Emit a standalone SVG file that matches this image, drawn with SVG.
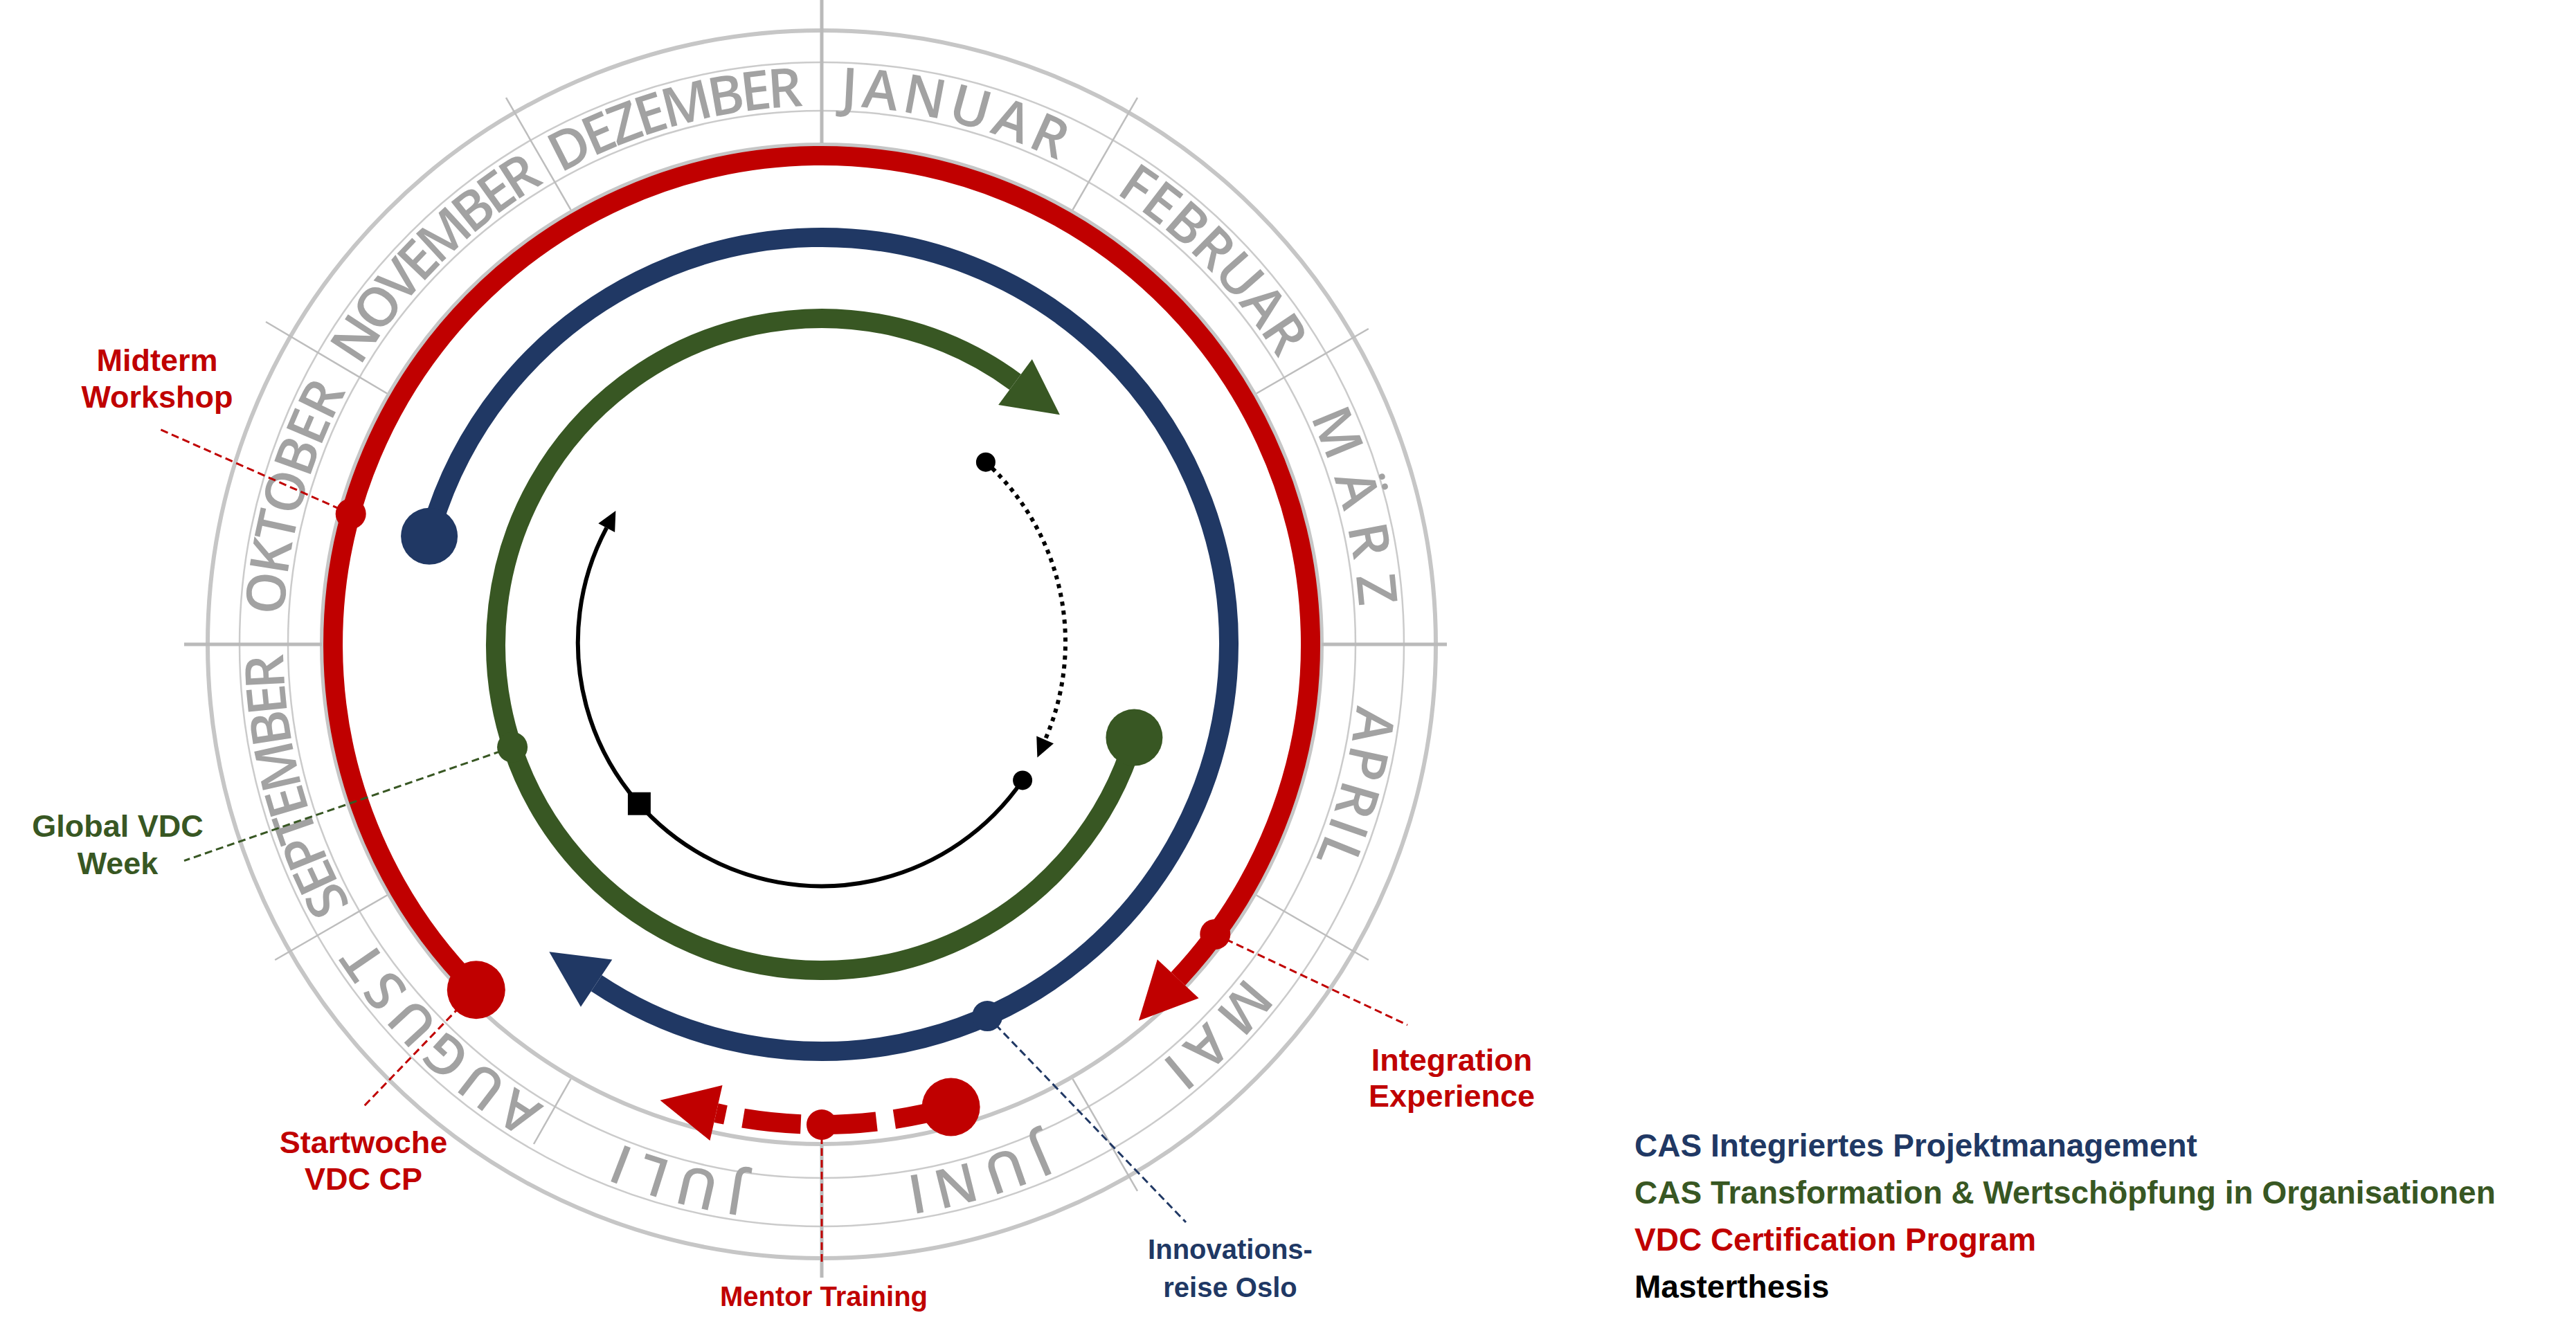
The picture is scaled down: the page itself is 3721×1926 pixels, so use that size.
<svg xmlns="http://www.w3.org/2000/svg" width="3721" height="1926" viewBox="0 0 3721 1926">
<style>
.sketch{fill:none;stroke:#c6c6c6;stroke-width:6}
.thin{fill:none;stroke:#cbcbcb;stroke-width:2.5}
.axis{stroke:#bababa;stroke-width:5}
.tick{stroke:#bdbdbd;stroke-width:2.5}
.month{font-family:"Open Sans","Liberation Sans",sans-serif;font-size:78px;font-weight:600;fill:#a2a2a2;text-anchor:middle}
.arc{fill:none;stroke-width:28}
.red{stroke:#C00000}
.blue{stroke:#203864}
.green{stroke:#385723}
.fred{fill:#C00000}
.fblue{fill:#203864}
.fgreen{fill:#385723}
.blk{fill:none;stroke:#000;stroke-width:6}
.leader{fill:none;stroke-width:3;stroke-dasharray:11 6}
.lbl{font-family:"Liberation Sans",Arial,sans-serif;font-weight:bold;font-size:45px;text-anchor:middle}
.lbl40{font-size:40px}
.legend{font-family:"Liberation Sans",Arial,sans-serif;font-weight:bold;font-size:46px}
</style>
<defs>
<path id="mpath" d="M 1187 153 A 778 778 0 1 1 1187 1709 A 778 778 0 1 1 1187 153"/>
<marker id="arRed" markerUnits="userSpaceOnUse" viewBox="0 -42 84 84" markerWidth="84" markerHeight="84" refX="0" refY="0" orient="auto" overflow="visible"><path d="M0,-41 L83,0 L0,41 Z" fill="#C00000"/></marker>
<marker id="arBlue" markerUnits="userSpaceOnUse" viewBox="0 -42 84 84" markerWidth="84" markerHeight="84" refX="0" refY="0" orient="auto" overflow="visible"><path d="M0,-41 L82,0 L0,41 Z" fill="#203864"/></marker>
<marker id="arGreen" markerUnits="userSpaceOnUse" viewBox="0 -42 84 84" markerWidth="84" markerHeight="84" refX="0" refY="0" orient="auto" overflow="visible"><path d="M0,-41 L80,0 L0,41 Z" fill="#385723"/></marker>
<marker id="arBlack" markerUnits="userSpaceOnUse" viewBox="0 -15 30 30" markerWidth="30" markerHeight="30" refX="0" refY="0" orient="auto" overflow="visible"><path d="M0,-13.5 L28,0 L0,13.5 Z" fill="#000"/></marker>
</defs>
<rect width="3721" height="1926" fill="#fff"/>

<g id="dial">
<circle class="sketch" cx="1187" cy="931" r="887"/>
<circle class="thin" cx="1187" cy="931" r="841"/>
<circle class="thin" cx="1187" cy="931" r="771"/>
<circle class="sketch" cx="1187" cy="931" r="722" stroke="#d2d2d2"/>
<line class="axis" x1="1187" y1="0" x2="1187" y2="207"/>
<line class="axis" x1="1187" y1="1653" x2="1187" y2="1846"/>
<line class="axis" x1="266" y1="931" x2="465" y2="931"/>
<line class="axis" x1="1909" y1="931" x2="2090" y2="931"/>
<line class="tick" x1="1549.5" y1="303.1" x2="1643" y2="141.2"/>
<line class="tick" x1="1814.9" y1="568.5" x2="1976.8" y2="475"/>
<line class="tick" x1="1814.9" y1="1293.5" x2="1976.8" y2="1387"/>
<line class="tick" x1="1549.5" y1="1558.9" x2="1643" y2="1720.8"/>
<line class="tick" x1="824.5" y1="1558.9" x2="771" y2="1653"/>
<line class="tick" x1="559.1" y1="1293.5" x2="397.2" y2="1387"/>
<line class="tick" x1="559.1" y1="568.5" x2="384" y2="465"/>
<line class="tick" x1="824.5" y1="303.1" x2="731" y2="141.2"/>
</g>

<g id="months" class="month">
<text><textPath href="#mpath" startOffset="190.1" textLength="326" lengthAdjust="spacing">JANUAR</textPath></text>
<text><textPath href="#mpath" startOffset="617.8" textLength="339" lengthAdjust="spacing">FEBRUAR</textPath></text>
<text><textPath href="#mpath" startOffset="1025.1" textLength="285" lengthAdjust="spacing">MÄRZ</textPath></text>
<text><textPath href="#mpath" startOffset="1425.7" textLength="231" lengthAdjust="spacing">APRIL</textPath></text>
<text><textPath href="#mpath" startOffset="1826.2" textLength="177" lengthAdjust="spacing">MAI</textPath></text>
<text><textPath href="#mpath" startOffset="2220" textLength="204" lengthAdjust="spacing">JUNI</textPath></text>
<text><textPath href="#mpath" startOffset="2647.7" textLength="190" lengthAdjust="spacing">JULI</textPath></text>
<text><textPath href="#mpath" startOffset="3041.5" textLength="353" lengthAdjust="spacing">AUGUST</textPath></text>
<text><textPath href="#mpath" startOffset="3462.4" textLength="380" lengthAdjust="spacing">SEPTEMBER</textPath></text>
<text><textPath href="#mpath" startOffset="3876.5" textLength="339" lengthAdjust="spacing">OKTOBER</textPath></text>
<text><textPath href="#mpath" startOffset="4277.1" textLength="380" lengthAdjust="spacing">NOVEMBER</textPath></text>
<text><textPath href="#mpath" startOffset="4677.6" textLength="367" lengthAdjust="spacing">DEZEMBER</textPath></text>
</g>

<g id="connectors">
<path id="arc-vdc" class="arc red" d="M 687.8 1430.2 A 706 706 0 1 1 1701.7 1414.3" marker-end="url(#arRed)"/>
<path id="arc-cas-pm" class="arc blue" d="M 620.1 774.8 A 588 588 0 1 1 861.6 1420.7" marker-end="url(#arBlue)"/>
<path id="arc-cas-tw" class="arc green" d="M 1638.4 1065.6 A 471 471 0 1 1 1466.5 551.9" marker-end="url(#arGreen)"/>
<path id="arc-vdc-dashed" class="arc red" stroke-dasharray="83.6 26" d="M 1373.6 1599.5 A 694 694 0 0 1 1034.5 1608" marker-end="url(#arRed)"/>
<path id="arc-thesis" class="blk" d="M 1477.1 1127.4 A 352 352 0 0 1 876.2 762.7" marker-end="url(#arBlack)"/>
<path id="arc-thesis-dotted" class="blk" stroke-dasharray="6 7" d="M 1423.9 667.7 A 352 352 0 0 1 1509.6 1068.9" marker-end="url(#arBlack)"/>
<line class="leader red" x1="506.7" y1="742.4" x2="228" y2="619"/>
<line class="leader green" x1="740.1" y1="1079.6" x2="266" y2="1243.6"/>
<line class="leader red" x1="687.8" y1="1430.2" x2="526" y2="1598"/>
<line class="leader red" x1="1755.3" y1="1349.9" x2="2033" y2="1481"/>
<line class="leader blue" x1="1426.2" y1="1468.1" x2="1713" y2="1766"/>
<line class="leader red" x1="1187" y1="1625" x2="1187" y2="1827"/>
</g>

<g id="endpoints">
<circle class="fred" cx="687.8" cy="1430.2" r="42"/>
<circle class="fblue" cx="620.1" cy="774.8" r="41"/>
<circle class="fgreen" cx="1638.4" cy="1065.6" r="41"/>
<circle class="fred" cx="1373.6" cy="1599.5" r="42"/>
<circle cx="1477.1" cy="1127.4" r="14" fill="#000"/>
<circle cx="1423.9" cy="667.7" r="14" fill="#000"/>
<rect x="906.9" y="1144.7" width="33" height="33" fill="#000"/>
</g>

<g id="node-midterm">
<circle class="fred" cx="506.7" cy="742.4" r="22"/>
<text class="lbl fred" x="227" y="536">Midterm</text>
<text class="lbl fred" x="227" y="589">Workshop</text>
</g>
<g id="node-global-vdc">
<circle class="fgreen" cx="740.1" cy="1079.6" r="22"/>
<text class="lbl fgreen" x="170" y="1209">Global VDC</text>
<text class="lbl fgreen" x="170" y="1263">Week</text>
</g>
<g id="node-startwoche">
<text class="lbl fred" x="525" y="1666">Startwoche</text>
<text class="lbl fred" x="525" y="1719">VDC CP</text>
</g>
<g id="node-mentor">
<circle class="fred" cx="1187" cy="1625" r="22"/>
<text class="lbl lbl40 fred" x="1190" y="1887">Mentor Training</text>
</g>
<g id="node-innovation">
<circle class="fblue" cx="1426.2" cy="1468.1" r="22"/>
<text class="lbl lbl40 fblue" x="1777" y="1819">Innovations-</text>
<text class="lbl lbl40 fblue" x="1777" y="1874">reise Oslo</text>
</g>
<g id="node-integration">
<circle class="fred" cx="1755.3" cy="1349.9" r="22"/>
<text class="lbl fred" x="2097" y="1547">Integration</text>
<text class="lbl fred" x="2097" y="1599">Experience</text>
</g>

<g id="legend" class="legend">
<text x="2361" y="1671" fill="#203864">CAS Integriertes Projektmanagement</text>
<text x="2361" y="1739" fill="#385723">CAS Transformation &amp; Wertschöpfung in Organisationen</text>
<text x="2361" y="1807" fill="#C00000">VDC Certification Program</text>
<text x="2361" y="1875" fill="#000">Masterthesis</text>
</g>
</svg>
